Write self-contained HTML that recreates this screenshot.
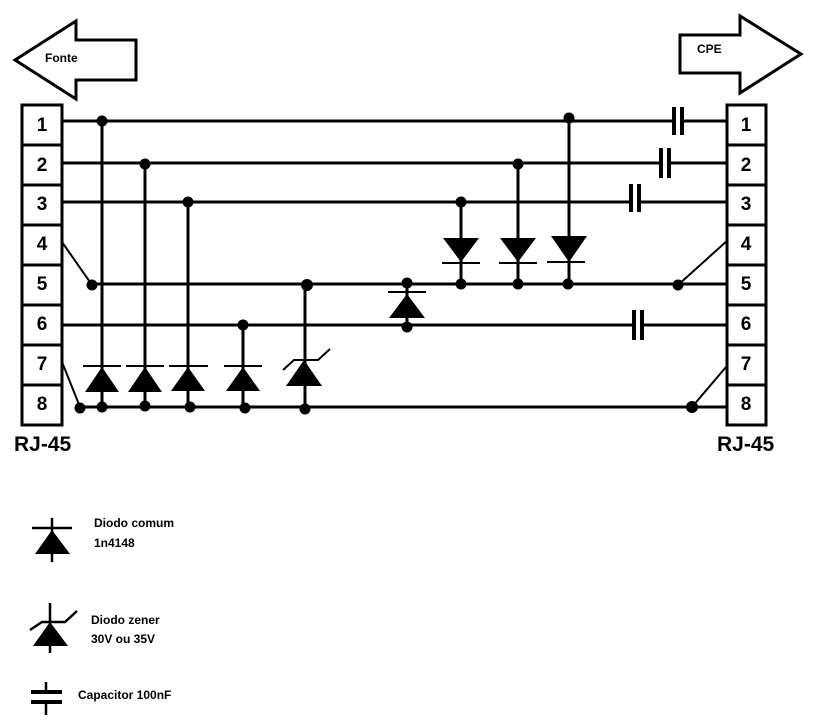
<!DOCTYPE html>
<html><head><meta charset="utf-8"><style>
html,body{margin:0;padding:0;background:#fff;}
svg{display:block;}
text{font-family:"Liberation Sans",Arial,sans-serif;font-weight:bold;fill:#000;}
</style></head><body>
<svg width="838" height="726" viewBox="0 0 838 726" xmlns="http://www.w3.org/2000/svg">
<g fill="none" stroke="#000" stroke-width="3">
<polygon points="15,60 76,21 76,40 136,40 136,80 76,80 76,99"/>
<polygon points="680,35 740,35 740,16 801,54 740,93 740,73 680,73"/>
<rect x="22" y="105" width="40" height="320"/>
<rect x="727" y="105" width="39" height="320"/>
<path d="M22 145H62M22 185H62M22 225H62M22 265H62M22 305H62M22 345H62M22 385H62"/>
<path d="M727 145H766M727 185H766M727 225H766M727 265H766M727 305H766M727 345H766M727 385H766"/>
</g>
<g stroke="#000" stroke-width="3" fill="none">
<path d="M62 121H673M683 121H727"/>
<path d="M62 163H660M670 163H727"/>
<path d="M62 202H630M640 202H727"/>
<path d="M92 284H727"/>
<path d="M62 325H632M643 325H727"/>
<path d="M80 407H727"/>
<path d="M674 107V135M682 107V135M661 148V178M669 148V178M631 184V212M639 184V212M634 310V340M642 310V340" stroke-width="4"/>
<path d="M62 242L92 285M62 362L80 407M728 240L678 285M726 367L692 407" stroke-width="2"/>
<path d="M102 121V407M145 163V407M188 202V407M243 325V407M305 284V407"/>
<path d="M461 202V284M518 163V284M569 118V284M407 284V325"/>
</g>
<g stroke="#000" stroke-width="2" fill="none">
<path d="M83 366H121M126 366H164M169 366H208M224 366H262"/>
<path d="M283 370L294 360H318L330 349"/>
<path d="M442 263H480M499 263H537M547 262H585M388 292H426"/>
</g>
<g fill="#000">
<polygon points="102,367 85,392 119,392"/>
<polygon points="145,367 128,392 162,392"/>
<polygon points="188,367 171,391 205,391"/>
<polygon points="243,367 226,391 260,391"/>
<polygon points="304,360 286,386 322,386"/>
<polygon points="407,294 389,318 425,318"/>
<polygon points="461,262 443,238 479,238"/>
<polygon points="518,262 500,238 536,238"/>
<polygon points="569,262 551,236 587,236"/>
<circle cx="102" cy="121" r="5.5"/><circle cx="145" cy="164" r="5.5"/><circle cx="188" cy="202" r="5.5"/>
<circle cx="92" cy="285" r="5.5"/><circle cx="307" cy="285" r="6"/><circle cx="243" cy="325" r="5.5"/>
<circle cx="80" cy="408" r="5.5"/><circle cx="102" cy="407" r="5.5"/><circle cx="145" cy="406" r="5.5"/><circle cx="190" cy="407" r="5.5"/><circle cx="245" cy="408" r="5.5"/><circle cx="305" cy="409" r="5.5"/>
<circle cx="569" cy="118" r="5.5"/><circle cx="518" cy="164" r="5.5"/><circle cx="461" cy="202" r="5.5"/>
<circle cx="461" cy="284" r="5.5"/><circle cx="518" cy="284" r="5.5"/><circle cx="568" cy="284" r="5.5"/>
<circle cx="407" cy="283" r="5.5"/><circle cx="407" cy="327" r="5.5"/>
<circle cx="678" cy="285" r="5.5"/><circle cx="692" cy="407" r="6"/>
</g>
<text x="45" y="62" font-size="12">Fonte</text>
<text x="697" y="53" font-size="12">CPE</text>
<g font-size="19" text-anchor="middle">
<text x="42" y="131">1</text><text x="42" y="171">2</text><text x="42" y="210">3</text><text x="42" y="250">4</text>
<text x="42" y="290">5</text><text x="42" y="330">6</text><text x="42" y="370">7</text><text x="42" y="410">8</text>
<text x="746" y="131">1</text><text x="746" y="171">2</text><text x="746" y="210">3</text><text x="746" y="250">4</text>
<text x="746" y="290">5</text><text x="746" y="330">6</text><text x="746" y="370">7</text><text x="746" y="410">8</text>
</g>
<text x="14" y="451" font-size="21">RJ-45</text>
<text x="717" y="451" font-size="21">RJ-45</text>
<g stroke="#000" stroke-width="2.5" fill="none">
<path d="M52 518V562M32 528H72"/>
<path d="M50 603V653M30 630L42 622H65L77 611"/>
<path d="M46 682V693M46 702V715"/>
<path d="M31 692H62M31 702H62" stroke-width="4"/>
</g>
<g fill="#000">
<polygon points="52,530 35,554 70,554"/>
<polygon points="50,622 33,646 68,646"/>
</g>
<g font-size="12">
<text x="94" y="527">Diodo comum</text>
<text x="94" y="547">1n4148</text>
<text x="91" y="624">Diodo zener</text>
<text x="91" y="643">30V ou 35V</text>
<text x="78" y="699">Capacitor 100nF</text>
</g>
</svg>
</body></html>
